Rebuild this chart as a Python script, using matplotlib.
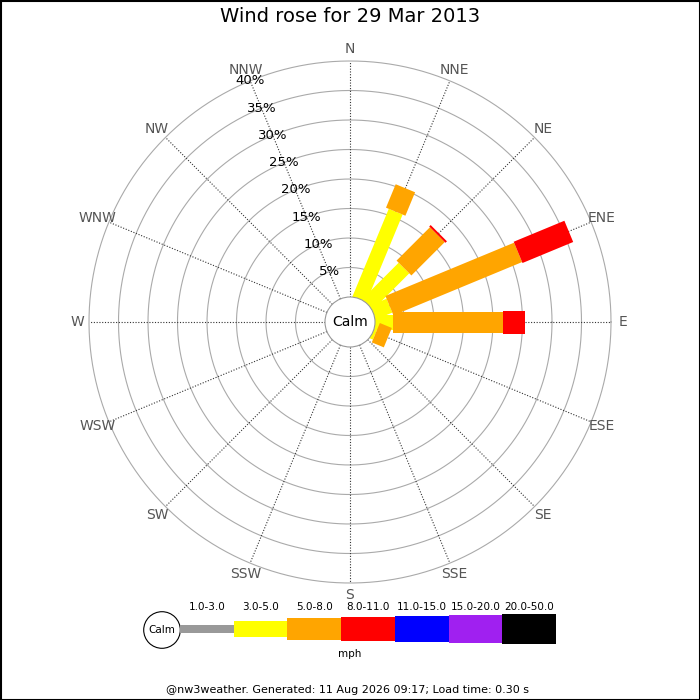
import numpy as np
import matplotlib
matplotlib.use("Agg")
import matplotlib.pyplot as plt
import matplotlib.patches as patches

# ---- data -------------------------------------------------------------
directions = ["N", "NNE", "NE", "ENE", "E", "ESE", "SE", "SSE",
              "S", "SSW", "SW", "WSW", "W", "WNW", "NW", "NNW"]
speed_bins = ["1.0-3.0", "3.0-5.0", "5.0-8.0", "8.0-11.0",
              "11.0-15.0", "15.0-20.0", "20.0-50.0"]
bin_colors = ["#999999", "#ffff00", "#ffa500", "#ff0000",
              "#0000ff", "#a020f0", "#000000"]
calm_pct = 0.0

# percent of time per direction for each speed bin
freq_1_3 = [0, 0, 0, 0, 0, 0, 0, 0, 0, 0, 0, 0, 0, 0, 0, 0]
freq_3_5 = [0, 16.0, 8.7, 3.0, 3.0, 0.5, 0, 0, 0, 0, 0, 0, 0, 0, 0, 0]
freq_5_8 = [0, 4.3, 8.0, 23.6, 18.7, 2.2, 0, 0, 0, 0, 0, 0, 0, 0, 0, 0]
freq_8_11 = [0, 0, 0.35, 9.3, 3.7, 0, 0, 0, 0, 0, 0, 0, 0, 0, 0, 0]
freq_11_15 = [0] * 16
freq_15_20 = [0] * 16
freq_20_50 = [0] * 16

ring_pcts = [5, 10, 15, 20, 25, 30, 35, 40]

freqs = np.array([freq_1_3, freq_3_5, freq_5_8, freq_8_11,
                  freq_11_15, freq_15_20, freq_20_50])

# ---- layout (pixels) ----------------------------------------------------
W = H = 700
PX = 5.9            # pixels per percent
CALM_PX = 25        # calm circle radius in px
CX, CY = 350, 322   # rose centre
bar_px = [8, 15, 21, 23, 25, 27, 28]

CALM = CALM_PX / PX
RMAX = CALM + ring_pcts[-1]
bar_w = [b / PX for b in bar_px]

fig = plt.figure(figsize=(7, 7), dpi=100)

# overlay in pixel coordinates for title, legend, footer
ov = fig.add_axes([0, 0, 1, 1])
ov.set_xlim(0, W)
ov.set_ylim(H, 0)
ov.axis("off")

# rose axes in percent units
half = 300 / PX
ax = fig.add_axes([(CX - 300) / W, (H - CY - 300) / H, 600 / W, 600 / H])
ax.set_xlim(-half, half)
ax.set_ylim(-half, half)
ax.set_aspect("equal")
ax.axis("off")

theta = np.linspace(0, 2 * np.pi, 400)
for p in ring_pcts:
    r = CALM + p
    ax.plot(r * np.cos(theta), r * np.sin(theta), color="#aaaaaa", lw=0.8, zorder=1)

angles = np.deg2rad(np.arange(16) * 22.5)
for a, name in zip(angles, directions):
    ux, uy = np.sin(a), np.cos(a)
    ax.plot([CALM * ux, RMAX * ux], [CALM * uy, RMAX * uy],
            color="#333333", lw=0.8, ls=(0, (1, 1.5)), zorder=1)
    rl = RMAX + 2.0
    ax.text(rl * ux, rl * uy, name, color="#555555", fontsize=10,
            ha="center", va="center", clip_on=False)

# percentage labels along NNW spoke
a = np.deg2rad(337.5)
for p in ring_pcts:
    r = CALM + p
    ax.text(r * np.sin(a), r * np.cos(a), f"{p}%", fontsize=9.5,
            ha="center", va="center", zorder=3)

# bars
for d in range(16):
    ux, uy = np.sin(angles[d]), np.cos(angles[d])
    vx, vy = np.cos(angles[d]), -np.sin(angles[d])
    cum = 0.0
    r0 = 0.0
    for b in range(len(speed_bins)):
        v = freqs[b, d]
        if v <= 0:
            continue
        cum += v
        r1 = CALM + cum
        h = bar_w[b] / 2
        pts = [(r0 * ux + h * vx, r0 * uy + h * vy),
               (r1 * ux + h * vx, r1 * uy + h * vy),
               (r1 * ux - h * vx, r1 * uy - h * vy),
               (r0 * ux - h * vx, r0 * uy - h * vy)]
        ax.add_patch(patches.Polygon(pts, closed=True, facecolor=bin_colors[b],
                                     edgecolor="none", zorder=2 + b * 0.01))
        r0 = r1

ax.add_patch(patches.Circle((0, 0), CALM, facecolor="white",
                            edgecolor="#999999", lw=0.8, zorder=4))
ax.text(0, 0, "Calm", fontsize=10, ha="center", va="center", zorder=5)

# title
ov.text(W / 2, 17, "Wind rose for 29 Mar 2013", fontsize=14,
        ha="center", va="center")

# legend
lx0, seg = 180, 53.7
ly = 629
ov.add_patch(patches.Circle((162, 630), 18.3, facecolor="white",
                            edgecolor="black", lw=0.8))
ov.text(162, 630, "Calm", fontsize=7.5, ha="center", va="center")
for i, (lab, col) in enumerate(zip(speed_bins, bin_colors)):
    x = lx0 + i * seg
    hgt = bar_px[i] + 0.3 * i
    ov.add_patch(patches.Rectangle((x, ly - hgt / 2), seg, hgt,
                                   facecolor=col, edgecolor="none"))
    ov.text(x + seg / 2, 607, lab, fontsize=7.5, ha="center", va="center")
ov.text(350, 654, "mph", fontsize=7.5, ha="center", va="center")

ov.text(348, 690, "@nw3weather. Generated: 11 Aug 2026 09:17; Load time: 0.30 s",
        fontsize=8, ha="center", va="center")

# border
ov.add_patch(patches.Rectangle((0.5, 0.5), W - 1, H - 1, fill=False,
                               edgecolor="black", lw=1.5))

fig.savefig("out.png", dpi=100)
